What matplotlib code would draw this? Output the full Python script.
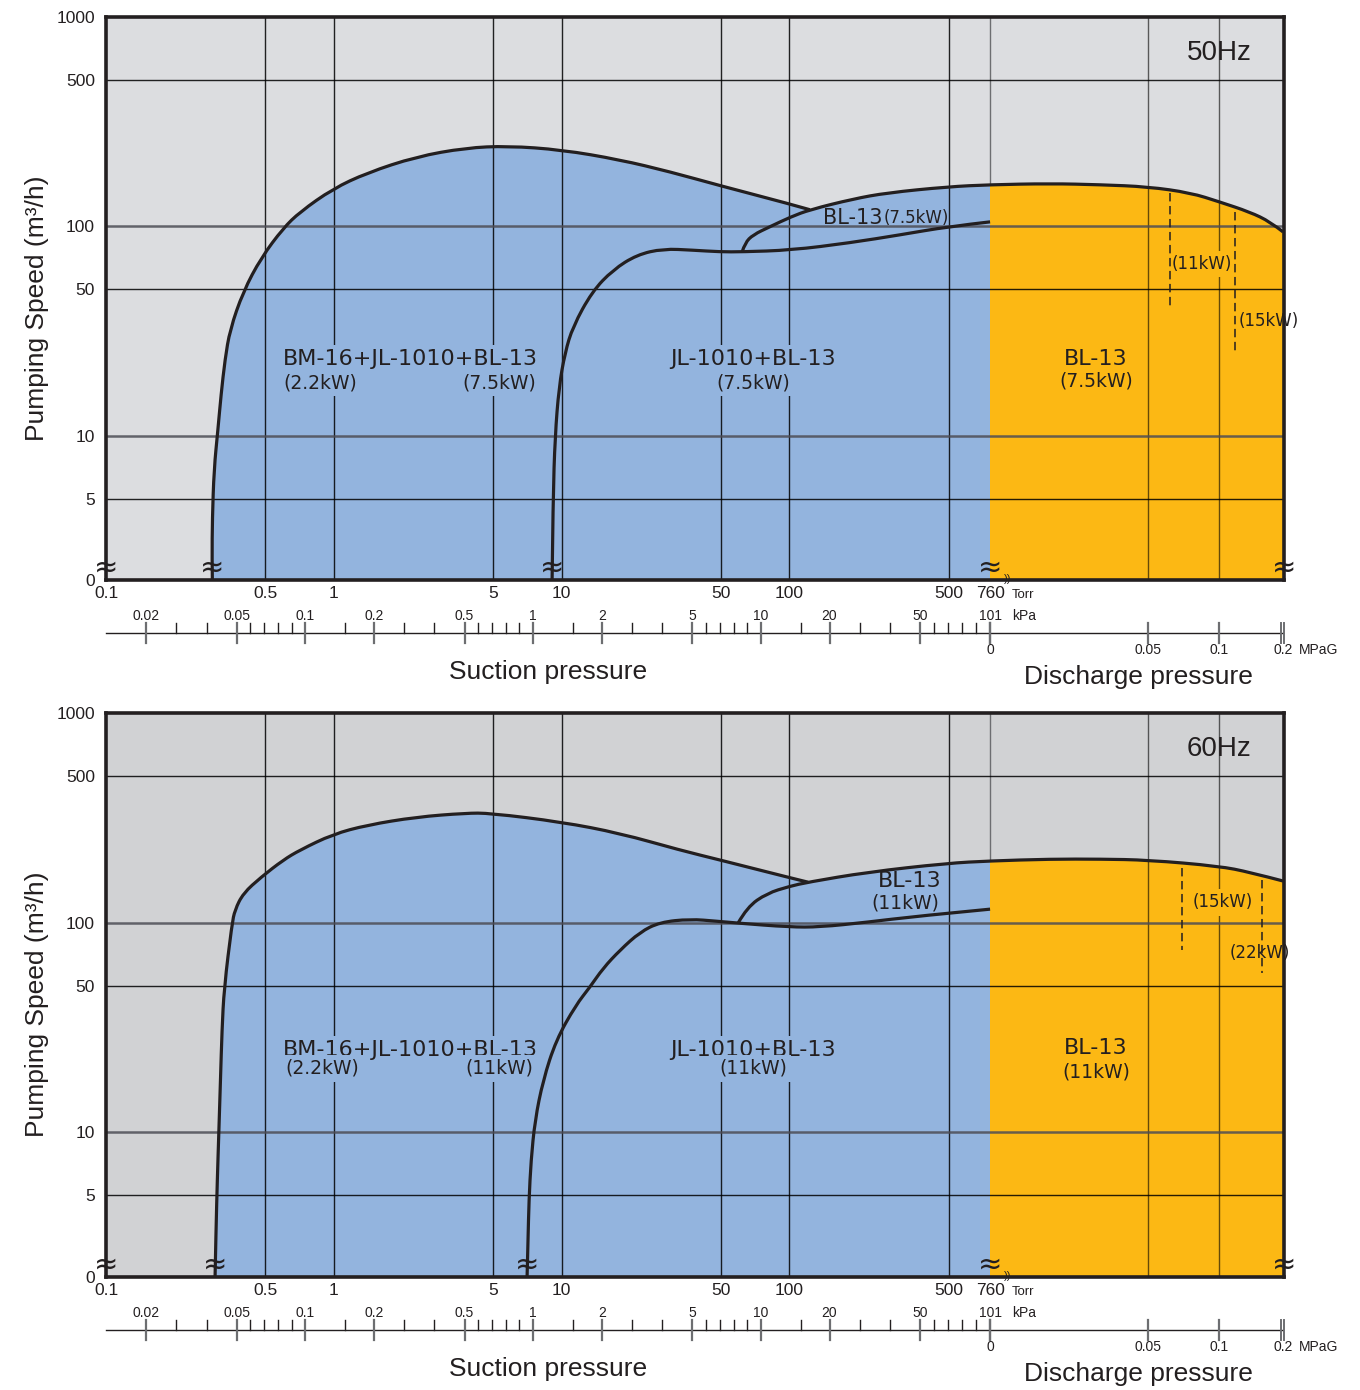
import numpy as np
import matplotlib
matplotlib.use('Agg')
import matplotlib.pyplot as plt
import matplotlib.transforms as mtransforms
from matplotlib.path import Path
from matplotlib.patches import PathPatch, Rectangle

plt.rcParams['font.family'] = ['Liberation Sans', 'DejaVu Sans']

# axis ticks
speed_ticks = [1000, 500, 100, 50, 10, 5]
speed_labels = ['1000', '500', '100', '50', '10', '5']
speed_major_grid = [100, 10]
speed_minor_grid = [500, 50, 5]
torr_ticks = [0.1, 0.5, 1, 5, 10, 50, 100, 500, 760]
torr_labels = ['0.1', '0.5', '1', '5', '10', '50', '100', '500', '760']
torr_grid = [0.5, 1, 5, 10, 50, 100, 500]
kpa_major = [0.02, 0.05, 0.1, 0.2, 0.5, 1, 2, 5, 10, 20, 50, 101]
kpa_labels = ['0.02', '0.05', '0.1', '0.2', '0.5', '1', '2', '5', '10', '20', '50', '101']
kpa_minor_count = [2, 4, 1, 2, 4, 1, 2, 4, 1, 2, 4]
mpag_ticks = [0, 0.05, 0.1, 0.2]
mpag_labels = ['0', '0.05', '0.1', '0.2']
mpag_grid = [0.05, 0.1]

# ---- 50 Hz ----
bm50_torr = [0.293, 0.292, 0.293, 0.298, 0.310, 0.320, 0.333, 0.350, 0.400, 0.480,
             0.600, 0.710, 0.990, 1.40, 2.30, 3.80, 5.80, 10.0, 18.0, 30.0, 50.0, 100, 123]
bm50_s = [2.0, 2.6, 4.0, 6.9, 10.7, 15.7, 23.1, 32, 48.7, 70.8,
          98, 117, 151, 180, 215, 237, 242, 232, 208, 182, 156, 128, 120]
bl50_torr = [62, 63.9, 69.2, 82.2, 101.6, 123, 190, 268, 497, 760]
bl50_s = [75.5, 83.4, 91, 99.6, 111, 120, 135, 144.5, 154.5, 158]
bl50_mpag = [0, 0.019, 0.035, 0.05, 0.08, 0.10, 0.148, 0.18, 0.20]
bl50_ds = [158, 160, 158, 154.5, 144.5, 131, 117, 105, 94]
jl50_torr = [9.08, 9.17, 9.36, 9.74, 10.35, 11.2, 13.6, 16.8, 21.4, 27.9,
             37.7, 49.6, 62, 101.6, 184.5, 306, 497, 760]
jl50_s = [2.0, 4.95, 9.9, 17.1, 24.9, 33.1, 48.7, 61.9, 73.1, 78.1,
          76.9, 75.5, 75.5, 76.9, 83.4, 91, 99.6, 105]
dash50_mpag = [0.0655, 0.125]
dash50_top = [144.5, 117]
dash50_bot = [41.3, 24.9]

# ---- 60 Hz ----
bm60_torr = [0.301, 0.304, 0.308, 0.313, 0.318, 0.323, 0.330, 0.357, 0.368, 0.40,
             0.48, 0.60, 0.71, 0.99, 1.40, 2.30, 3.80, 4.85, 10.0, 18.0, 33.0, 49.6, 100, 120.7]
bm60_s = [2.0, 3.4, 5.9, 10.2, 17.7, 30.7, 48.7, 98, 115, 138,
          165, 199, 222, 264, 292, 319, 333, 333, 302, 267, 222, 199, 164, 156]
bl60_torr = [59.5, 65.2, 79.7, 100, 120.7, 219, 492, 760]
bl60_s = [99.5, 118.6, 138, 149, 156, 174, 192, 197]
bl60_mpag = [0, 0.019, 0.035, 0.05, 0.10, 0.148, 0.20]
bl60_ds = [197, 201, 201, 199, 186, 174, 158]
jl60_torr = [7.05, 7.12, 7.19, 7.34, 7.64, 8.29, 9.45, 11.54, 13.3, 15.2,
             18.05, 22.1, 27.0, 36.6, 48.1, 59.5, 100, 136, 219, 363, 760]
jl60_s = [2.0, 3.05, 4.73, 7.34, 11.4, 17.7, 27.5, 40.4, 49.2, 60.6,
          74, 90.2, 100.5, 104, 101.6, 99.5, 95.3, 95.3, 100.5, 107.4, 116]
dash60_mpag = [0.074, 0.167]
dash60_top = [182, 160]
dash60_bot = [74, 57.4]

GREY50 = '#dcdde0'
GREY60 = '#d1d2d4'
BLUE = '#93b4de'
ORANGE = '#fcb814'
INK = '#231f20'

U760 = np.log10(760)
MPA_POS = [U760, 3.574, 3.886, 4.167]
XMIN, XMAX = -1.0, 4.171
YMIN, YMAX = 0.31, 3.0
FLOOR = np.log10(1.9)


def tx(torr):
    return np.log10(np.asarray(torr, float))


def mx(mpag):
    return np.interp(mpag, mpag_ticks, MPA_POS)


def sy(s):
    return np.log10(np.asarray(s, float))


def smooth(xs, ys):
    pts = np.column_stack([xs, ys])
    n = len(pts)
    verts = [pts[0]]
    codes = [Path.MOVETO]
    for i in range(1, n - 2):
        verts += [pts[i], (pts[i] + pts[i + 1]) / 2]
        codes += [Path.CURVE3, Path.CURVE3]
    verts += [pts[n - 2], pts[n - 1]]
    codes += [Path.CURVE3, Path.CURVE3]
    return verts, codes


def closed(verts, codes, x0, x1, color):
    v = list(verts) + [(x1, FLOOR), (x0, FLOOR), verts[0]]
    c = list(codes) + [Path.LINETO, Path.LINETO, Path.CLOSEPOLY]
    return PathPatch(Path(v, c), facecolor=color, edgecolor='none', zorder=1)


def outline(ax, verts, codes):
    ax.add_patch(PathPatch(Path(verts, codes), fill=False, edgecolor=INK,
                           lw=2.3, zorder=4, capstyle='butt'))


def panel(ax, bg, bm_t, bm_s, bl_t, bl_s, bl_m, bl_ds, jl_t, jl_s,
          d_m, d_top, d_bot):
    ax.set_facecolor(bg)
    ax.set_xlim(XMIN, XMAX)
    ax.set_ylim(YMIN, YMAX)

    bx, by = tx(bm_t), sy(bm_s)
    v1, c1 = smooth(bx, by)
    ax.add_patch(closed(v1, c1, bx[0], bx[-1], BLUE))

    lx = np.concatenate([tx(bl_t), mx(bl_m[1:])])
    ly = sy(np.concatenate([bl_s, bl_ds[1:]]))
    v2, c2 = smooth(lx, ly)
    ax.add_patch(closed(v2, c2, lx[0], lx[-1], BLUE))
    op = closed(v2, c2, lx[0], lx[-1], ORANGE)
    ax.add_patch(op)
    op.set_clip_path(Rectangle((U760, YMIN), XMAX - U760, YMAX - YMIN,
                               transform=ax.transData))

    jx, jy = tx(jl_t), sy(jl_s)
    v3, c3 = smooth(jx, jy)

    outline(ax, v1, c1)
    outline(ax, v2, c2)
    outline(ax, v3, c3)

    # grid
    for t in torr_grid:
        ax.axvline(tx(t), color='black', lw=1.0, alpha=0.85, zorder=2)
    ax.axvline(U760, color='#6d6e71', lw=1.0, zorder=0.5)
    for m in mpag_grid:
        ax.axvline(mx(m), color='black', lw=1.0, alpha=0.6, zorder=2)
    for s in speed_major_grid:
        ax.axhline(sy(s), color='#4d4d55', lw=1.8, alpha=0.85, zorder=2)
    for s in speed_minor_grid:
        ax.axhline(sy(s), color='black', lw=1.0, alpha=0.85, zorder=2)

    for m, a, b in zip(d_m, d_top, d_bot):
        ax.plot([mx(m), mx(m)], [sy(a), sy(b)], color=INK, lw=1.1,
                dashes=(5.5, 3), zorder=5.5)

    # ticks
    ax.set_yticks(list(sy(speed_ticks)) + [YMIN])
    ax.set_yticklabels(speed_labels + ['0'])
    ax.set_xticks(tx(torr_ticks))
    ax.set_xticklabels(torr_labels)
    ax.tick_params(axis='both', length=0, labelsize=12.5, labelcolor=INK)
    ax.tick_params(axis='y', pad=8)
    ax.tick_params(axis='x', pad=4)
    for sp in ax.spines.values():
        sp.set_linewidth(2.6)
        sp.set_color(INK)
        sp.set_zorder(6)

    tr = mtransforms.blended_transform_factory(ax.transData, ax.transAxes)
    h = 563.0
    yl, ymn, ymj = -53 / h, -43 / h, -63 / h
    ax.plot([XMIN, mx(0.2)], [yl, yl], transform=tr, color=INK, lw=1.0, clip_on=False)
    ku = tx(np.array(kpa_major) * 760 / 101.325)
    ku[-1] = U760
    for u, lab in zip(ku, kpa_labels):
        ax.plot([u, u], [ymn, ymj], transform=tr, color='#6d6e71', lw=1.6, clip_on=False)
        ax.text(u, -36 / h, lab, transform=tr, ha='center', va='center',
                fontsize=10, color=INK)
    for i, n in enumerate(kpa_minor_count):
        a, b = ku[i], ku[i + 1]
        if n == 1:
            pos = [a + np.log10(1.5)]
        else:
            pos = a + (b - a) * np.arange(1, n + 1) / (n + 1)
        for u in pos:
            ax.plot([u, u], [ymn, yl], transform=tr, color=INK, lw=1.0, clip_on=False)
    for m, lab in zip(mpag_ticks, mpag_labels):
        u = mx(m)
        if m == 0.2:
            for du in (-0.008, 0.006):
                ax.plot([u + du, u + du], [ymn, ymj], transform=tr, color='#6d6e71',
                        lw=1.4, clip_on=False)
        else:
            ax.plot([u, u], [ymn, ymj], transform=tr, color='#6d6e71', lw=1.6, clip_on=False)
        ax.text(u, -70 / h, lab, transform=tr, ha='center', va='center',
                fontsize=10, color=INK)
    ax.text(4.235, -70 / h, 'MPaG', transform=tr, ha='left', va='center',
            fontsize=10, color=INK)
    ax.text(2.977, -36 / h, 'kPa', transform=tr, ha='left', va='center',
            fontsize=10, color=INK)
    ax.text(2.977, -15 / h, 'Torr', transform=tr, ha='left', va='center',
            fontsize=9.5, color=INK)
    ax.text(0.94, -92 / h, 'Suction pressure', transform=tr, ha='center',
            va='center', fontsize=19, color=INK)
    ax.text(3.53, -97 / h, 'Discharge pressure', transform=tr, ha='center',
            va='center', fontsize=19, color=INK)

    # break marks
    for u in [XMIN, bx[0], jx[0], U760, XMAX]:
        ax.text(u, 0.022, '\u2248', transform=tr, ha='center', va='center',
                fontsize=21, color=INK, zorder=7, clip_on=False,
                family=['DejaVu Sans'])
    ax.text(U760 + 0.078, 0.002, '))', transform=tr, ha='center', va='center',
            fontsize=8, color=INK, zorder=7, clip_on=False)
    return tr


def label(ax, x, y, s, size, bg, ha='center'):
    ax.text(x, y, s, ha=ha, va='center', fontsize=size, color=INK,
            family=['DejaVu Sans'], zorder=5,
            bbox=dict(facecolor=bg, edgecolor='none', pad=3) if bg else None)


fig = plt.figure(figsize=(13.6, 13.9), dpi=100)
ax1 = fig.add_axes([106 / 1360, 1 - 580 / 1390, 1178 / 1360, 563 / 1390])
ax2 = fig.add_axes([106 / 1360, 1 - 1277 / 1390, 1178 / 1360, 564 / 1390])

panel(ax1, GREY50, bm50_torr, bm50_s, bl50_torr, bl50_s, bl50_mpag, bl50_ds,
      jl50_torr, jl50_s, dash50_mpag, dash50_top, dash50_bot)
panel(ax2, GREY60, bm60_torr, bm60_s, bl60_torr, bl60_s, bl60_mpag, bl60_ds,
      jl60_torr, jl60_s, dash60_mpag, dash60_top, dash60_bot)

# 50 Hz labels
label(ax1, 0.3345, sy(23.1), 'BM-16+JL-1010+BL-13', 16, BLUE)
label(ax1, -0.06, sy(17.9), '(2.2kW)', 13.5, BLUE)
label(ax1, 0.725, sy(17.9), '(7.5kW)', 13.5, BLUE)
label(ax1, 1.84, sy(23.1), 'JL-1010+BL-13', 16, BLUE)
label(ax1, 1.84, sy(17.9), '(7.5kW)', 13.5, BLUE)
label(ax1, 2.4065, sy(110), 'BL-13', 15, None, ha='right')
label(ax1, 2.415, sy(110), '(7.5kW)', 12, None, ha='left')
label(ax1, mx(0.0335), sy(23.3), 'BL-13', 16, ORANGE)
label(ax1, mx(0.0335), sy(18.3), '(7.5kW)', 13.5, ORANGE)
label(ax1, mx(0.088), sy(66.2), '(11kW)', 12, ORANGE)
label(ax1, mx(0.177), sy(35.4), '(15kW)', 12, None)
ax1.text(mx(0.1), sy(673), '50Hz', ha='center', va='center', fontsize=20, color=INK, zorder=5)

# 60 Hz labels
label(ax2, 0.3345, sy(24.6), 'BM-16+JL-1010+BL-13', 16, BLUE)
label(ax2, -0.052, sy(20.2), '(2.2kW)', 13.5, BLUE)
label(ax2, 0.725, sy(20.2), '(11kW)', 13.5, BLUE)
label(ax2, 1.84, sy(24.6), 'JL-1010+BL-13', 16, BLUE)
label(ax2, 1.84, sy(20.2), '(11kW)', 13.5, BLUE)
label(ax2, 2.529, sy(158), 'BL-13', 16, None)
label(ax2, 2.507, sy(124), '(11kW)', 13.5, None)
label(ax2, mx(0.0335), sy(25.2), 'BL-13', 16, ORANGE)
label(ax2, mx(0.0335), sy(19.5), '(11kW)', 13.5, ORANGE)
label(ax2, mx(0.106), sy(125), '(15kW)', 12, ORANGE)
label(ax2, mx(0.164), sy(71.5), '(22kW)', 12, None)
ax2.text(mx(0.1), sy(673), '60Hz', ha='center', va='center', fontsize=20, color=INK, zorder=5)

fig.text(37 / 1360, 1 - 308 / 1390, 'Pumping Speed (m\u00b3/h)', rotation=90,
         ha='center', va='center', fontsize=19, color=INK)
fig.text(37 / 1360, 1 - 1004 / 1390, 'Pumping Speed (m\u00b3/h)', rotation=90,
         ha='center', va='center', fontsize=19, color=INK)

fig.savefig('out.png', dpi=100, facecolor='white')
